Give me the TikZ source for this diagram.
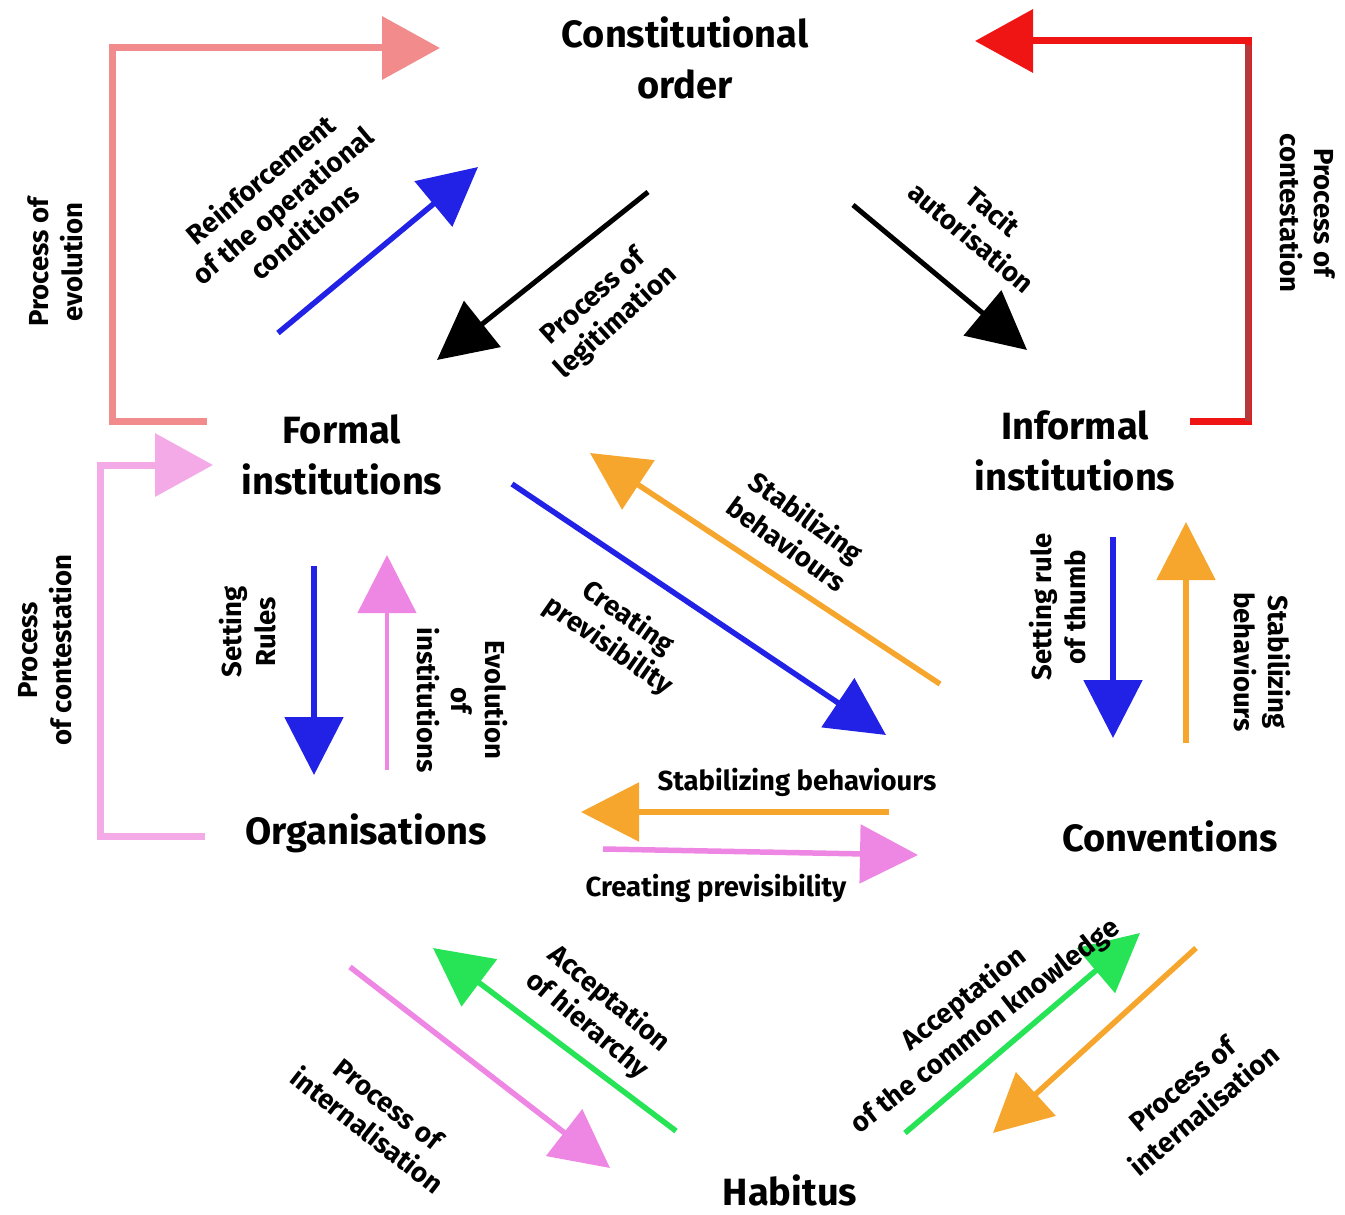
\documentclass[tikz,border=0pt]{standalone}
\usepackage{fontspec}
\setmainfont{Fira Sans}
\usetikzlibrary{arrows.meta}

\definecolor{salmon}{HTML}{F28B8B}
\definecolor{contred}{HTML}{F01515}
\definecolor{darkred}{HTML}{B23A3C}
\definecolor{lilac}{HTML}{F4AAE6}
\definecolor{violet}{HTML}{EE86E4}
\definecolor{flowblue}{HTML}{2222E6}
\definecolor{amber}{HTML}{F6A62C}
\definecolor{lime}{HTML}{26E455}

\begin{document}
\begin{tikzpicture}[x=1pt,y=-1pt,
  big/.style={font=\fontsize{38}{51}\selectfont\bfseries, align=center, inner sep=0pt},
  lbl/.style={font=\fontsize{27.5}{34}\selectfont\bfseries, align=center, inner sep=0pt},
  flow/.style={line width=5.5pt, -{Triangle[length=58pt,width=58pt]}},
  elbow/.style={line width=7pt, line join=miter, -{Triangle[length=58pt,width=62pt]}}]
\useasboundingbox (0,0) rectangle (1345,1215);

\node[big] (const) at (685,58) {Constitutional\\order};
\node[big] (formal) at (342,455) {Formal\\institutions};
\node[big] (informal) at (1075,451) {Informal\\institutions};
\node[big] (orgs) at (366,833) {Organisations};
\node[big] (conv) at (1170,836) {Conventions};
\node[big, anchor=base] (habitus) at (790,1205) {Habitus};

% loops round the outside
\coordinate (evoS) at (207,421);
\coordinate (evoE) at (440,48);
\draw[elbow, salmon] (evoS) -- ++(-95,0) |- (evoE);
\node[lbl, rotate=90] (evoL) at (55,262) {Process of\\evolution};

\coordinate (conS) at (1190,421);
\coordinate (conE) at (975,41);
\coordinate (conC) at (1248,421);
\draw[elbow, contred] (conS) -- (conC) |- (conE);
\draw[line width=6pt, darkred] (conC) -- ++(0,-376);
\node[lbl, rotate=-90] (conL) at (1308,213) {Process of\\contestation};

\coordinate (orgS) at (205,836);
\coordinate (orgE) at (213,465);
\draw[elbow, lilac] (orgS) -- ++(-105,0) |- (orgE);
\node[lbl, rotate=90] (orgL) at (45,650) {Process\\of contestation};

% upper triangle
\coordinate (reS) at (278,333);
\coordinate (reE) at (478,167);
\draw[flow, flowblue] (reS) -- (reE);
\node[lbl, rotate=40] (reL) at (282,205) {Reinforcement\\of the operational\\conditions};

\coordinate (leS) at (648,192);
\coordinate (leE) at (437,360);
\draw[flow, black, line width=5pt] (leS) -- (leE);
\node[lbl, rotate=42] (leL) at (605,310) {Process of\\legitimation};

\coordinate (taS) at (853,205);
\coordinate (taE) at (1027,350);
\draw[flow, black, line width=5pt] (taS) -- (taE);
\node[lbl, rotate=-40] (taL) at (983,224) {Tacit\\autorisation};

% formal institutions and organisations
\coordinate (ruS) at (314,566);
\coordinate (ruE) at (314,775);
\draw[flow, flowblue] (ruS) -- (ruE);
\node[lbl, rotate=90] (ruL) at (248,632) {Setting\\Rules};

\coordinate (inS) at (387,770);
\coordinate (inE) at (387,555);
\draw[flow, violet, line width=4.5pt] (inS) -- (inE);
\node[lbl, rotate=-90] (inL) at (462,700) {Evolution\\of\\institutions};

% formal institutions and conventions
\coordinate (pvS) at (512,484);
\coordinate (pvE) at (886,735);
\draw[flow, flowblue] (pvS) -- (pvE);
\node[lbl, rotate=-35] (pvL) at (618,632) {Creating\\previsibility};

\coordinate (sbS) at (940,684);
\coordinate (sbE) at (590,453);
\draw[flow, amber] (sbS) -- (sbE);
\node[lbl, rotate=-36] (sbL) at (797,530) {Stabilizing\\behaviours};

% informal institutions and conventions
\coordinate (thS) at (1113,537);
\coordinate (thE) at (1113,738);
\draw[flow, flowblue] (thS) -- (thE);
\node[lbl, rotate=90] (thL) at (1058,607) {Setting rule\\of thumb};

\coordinate (stS) at (1186,743);
\coordinate (stE) at (1186,522);
\draw[flow, amber] (stS) -- (stE);
\node[lbl, rotate=-90] (stL) at (1262,662) {Stabilizing\\behaviours};

% organisations and conventions
\coordinate (hoS) at (889,812);
\coordinate (hoE) at (581,812);
\draw[flow, amber] (hoS) -- (hoE);
\node[lbl] (hoL) at (797,782) {Stabilizing behaviours};

\coordinate (hpS) at (603,849);
\coordinate (hpE) at (918,855);
\draw[flow, violet] (hpS) -- (hpE);
\node[lbl] (hpL) at (716,888) {Creating previsibility};

% habitus
\coordinate (ilS) at (350,967);
\coordinate (ilE) at (610,1168);
\draw[flow, violet] (ilS) -- (ilE);
\node[lbl, rotate=-38] (ilL) at (378,1117) {Process of\\internalisation};

\coordinate (hiS) at (676,1131);
\coordinate (hiE) at (433,948);
\draw[flow, lime] (hiS) -- (hiE);
\node[lbl, rotate=-40] (hiL) at (598,1012) {Acceptation\\of hierarchy};

\coordinate (ckS) at (905,1133);
\coordinate (ckE) at (1140,933);
\draw[flow, lime] (ckS) -- (ckE);
\node[lbl, rotate=38] (ckL) at (975,1013) {Acceptation\\of the common knowledge};

\coordinate (irS) at (1196,948);
\coordinate (irE) at (993,1133);
\draw[flow, amber] (irS) -- (irE);
\node[lbl, rotate=40] (irL) at (1193,1097) {Process of\\internalisation};
\end{tikzpicture}
\end{document}
